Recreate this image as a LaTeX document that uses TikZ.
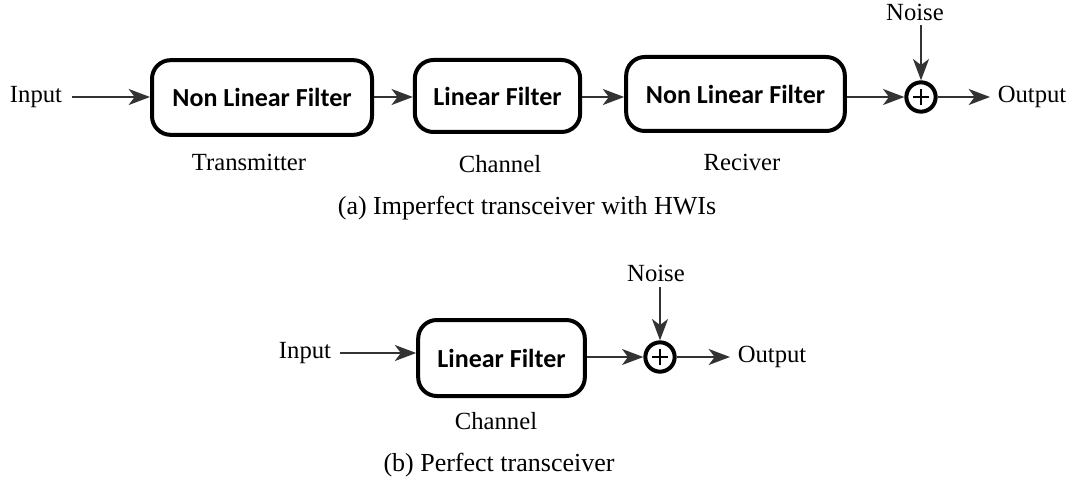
\documentclass[tikz,border=0pt]{standalone}
\usepackage{fontspec}
\setmainfont{Liberation Serif}
\newfontfamily\boxfont{Carlito}
\usetikzlibrary{arrows.meta}
\definecolor{arr}{HTML}{333333}
\begin{document}
\begin{tikzpicture}[x=0.75pt,y=-0.75pt,
 blk/.style={draw, line width=3pt, rounded corners=14pt, font=\boxfont\bfseries\fontsize{19.5}{22}\selectfont, inner sep=0pt},
 lbl/.style={font=\fontsize{18.5}{21}\selectfont, inner sep=0pt},
 captext/.style={font=\fontsize{19.5}{22}\selectfont, inner sep=0pt},
 sumc/.style={draw, circle, line width=3pt, minimum size=22pt, inner sep=0pt},
 conn/.style={draw=arr, line width=1.5pt, -{Stealth[length=16pt,width=12pt,inset=4.5pt]}},
 plus/.style={line width=1.6pt}]
\useasboundingbox (0,0) rectangle (1073,481);
% ---- (a) ----
\node[lbl] (in1) at (36,97) {Input};
\node[blk, minimum width=165pt, minimum height=56pt] (b1) at (262,97.5) {Non Linear Filter};
\node[blk, minimum width=124pt, minimum height=54pt] (b2) at (497.5,96) {Linear Filter};
\node[blk, minimum width=164pt, minimum height=55.5pt] (b3) at (735.5,94) {Non Linear Filter};
\node[sumc] (s1) at (921,97) {};
\draw[plus] ([xshift=-6pt]s1.center) -- ([xshift=6pt]s1.center)
            ([yshift=-6pt]s1.center) -- ([yshift=6pt]s1.center);
\node[lbl] (n1) at (915,12) {Noise};
\node[lbl] (out1) at (1032,97) {Output};
\node[lbl] (t1) at (249,162) {Transmitter};
\node[lbl] (c1) at (500,164) {Channel};
\node[lbl] (r1) at (742,162) {Reciver};
\node[captext] (capa) at (527,208) {(a) Imperfect transceiver with HWIs};
\coordinate (p1) at (72,97);
\draw[conn] (p1) -- (p1 -| b1.west);
\draw[conn] (b1.east |- 0,97) -- (b2.west |- 0,97);
\draw[conn] (b2.east |- 0,97) -- (b3.west |- 0,97);
\draw[conn] (b3.east |- 0,97) -- (s1.west);
\draw[conn] (s1.north |- 0,25) -- (s1.north);
\draw[conn] (s1.east) -- (990,97);
% ---- (b) ----
\node[lbl] (in2) at (305,353) {Input};
\node[blk, minimum width=125pt, minimum height=57pt] (b4) at (501.5,358) {Linear Filter};
\node[sumc] (s2) at (660,357) {};
\draw[plus] ([xshift=-6pt]s2.center) -- ([xshift=6pt]s2.center)
            ([yshift=-6pt]s2.center) -- ([yshift=6pt]s2.center);
\node[lbl] (n2) at (656,273) {Noise};
\node[lbl] (out2) at (772,357) {Output};
\node[lbl] (c2) at (496,421) {Channel};
\node[captext] (capb) at (499,465) {(b) Perfect transceiver};
\coordinate (p2) at (340,353);
\draw[conn] (p2) -- (p2 -| b4.west);
\draw[conn] (b4.east |- 0,357) -- (s2.west);
\draw[conn] (s2.north |- 0,287) -- (s2.north);
\draw[conn] (s2.east) -- (730,357);
\end{tikzpicture}
\end{document}
